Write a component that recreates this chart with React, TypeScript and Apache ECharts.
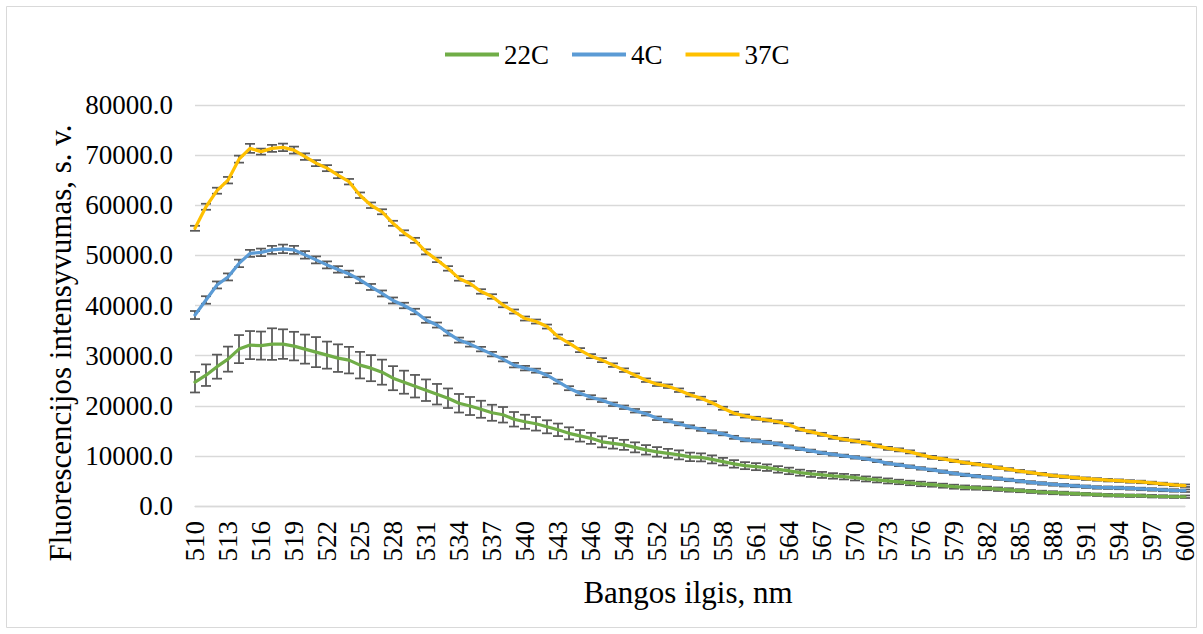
import React, { useEffect, useRef } from "react";
import * as echarts from "echarts";

const categories = [
  "510","511","512","513","514","515","516","517","518","519",
  "520","521","522","523","524","525","526","527","528","529",
  "530","531","532","533","534","535","536","537","538","539",
  "540","541","542","543","544","545","546","547","548","549",
  "550","551","552","553","554","555","556","557","558","559",
  "560","561","562","563","564","565","566","567","568","569",
  "570","571","572","573","574","575","576","577","578","579",
  "580","581","582","583","584","585","586","587","588","589",
  "590","591","592","593","594","595","596","597","598","599",
  "600",
];

const values22C = [
  24700, 26100, 27800, 29300, 31300, 32100, 32000, 32300, 32300, 31900,
  31300, 30700, 30100, 29500, 29100, 28100, 27500, 26700, 25500, 24700,
  23900, 23100, 22300, 21500, 20500, 19950, 19300, 18600, 18200, 17300,
  16800, 16400, 15800, 15200, 14500, 14000, 13500, 12800, 12500, 12200,
  11700, 11200, 10800, 10500, 10200, 9800, 9700, 9300, 8850, 8400,
  8050, 7850, 7650, 7300, 7000, 6650, 6400, 6200, 6000, 5850,
  5650, 5400, 5200, 5000, 4800, 4600, 4400, 4250, 4050, 3850,
  3700, 3600, 3500, 3350, 3200, 3050, 2900, 2750, 2650, 2550,
  2450, 2350, 2250, 2150, 2100, 2050, 2050, 1950, 1900, 1850,
  1850,
];

const errors22C = [
  2050, 2150, 2400, 2500, 2800, 2800, 2800, 3150, 2950, 2850,
  2900, 3000, 2700, 2750, 2650, 2650, 2600, 2500, 2400, 2300,
  2250, 2150, 2050, 1950, 1850, 1800, 1700, 1600, 1550, 1450,
  1400, 1350, 1300, 1250, 1200, 1150, 1100, 1100, 1050, 1000,
  1000, 950, 950, 900, 900, 850, 800, 800, 750, 750,
  700, 700, 650, 650, 650, 600, 600, 600, 550, 550,
  550, 500, 500, 500, 450, 450, 450, 400, 400, 400,
  400, 350, 350, 350, 350, 300, 300, 300, 300, 300,
  250, 250, 250, 250, 250, 250, 250, 250, 250, 250,
  250,
];

const values4C = [
  38100, 41100, 44100, 45700, 48400, 50400, 50600, 51100, 51300, 51100,
  50100, 49100, 48100, 47200, 46300, 45100, 43700, 42400, 41000, 40000,
  38800, 37100, 36100, 34500, 33100, 32300, 31300, 30300, 29300, 28100,
  27500, 27000, 26100, 24800, 23500, 22500, 21700, 21100, 20300, 19700,
  19000, 18400, 17500, 17000, 16400, 15800, 15300, 14800, 14400, 13700,
  13200, 13000, 12700, 12400, 11800, 11400, 11000, 10600, 10300, 10000,
  9700, 9400, 9000, 8500, 8200, 7850, 7500, 7200, 6850, 6500,
  6200, 5950, 5700, 5450, 5200, 4950, 4700, 4500, 4300, 4150,
  4000, 3850, 3700, 3650, 3600, 3500, 3400, 3300, 3200, 3100,
  3050,
];

const errors4C = [
  800, 750, 700, 700, 750, 700, 750, 800, 850, 800,
  750, 700, 700, 650, 650, 650, 600, 600, 600, 550,
  550, 550, 500, 500, 500, 500, 450, 450, 450, 450,
  450, 400, 400, 400, 400, 400, 400, 350, 350, 350,
  350, 350, 350, 300, 300, 300, 300, 300, 300, 300,
  300, 300, 300, 300, 300, 250, 250, 250, 250, 250,
  250, 250, 250, 250, 250, 250, 250, 250, 250, 250,
  250, 250, 250, 250, 250, 250, 250, 250, 250, 250,
  250, 250, 250, 250, 250, 250, 250, 250, 250, 250,
  250,
];

const values37C = [
  55400, 59700, 62900, 65000, 69200, 71350, 70700, 71350, 71550, 71000,
  69700, 68400, 67400, 66000, 64700, 62000, 60000, 58700, 56400, 54500,
  53000, 50700, 49100, 47400, 45400, 44400, 42800, 41800, 40100, 38800,
  37400, 36800, 35800, 33800, 32500, 31100, 29900, 29100, 28100, 27100,
  26100, 25100, 24300, 23900, 23100, 22200, 21500, 20600, 19500, 18500,
  17950, 17500, 17150, 16800, 16200, 15300, 14800, 14300, 13700, 13300,
  12970, 12600, 12000, 11500, 11200, 10800, 10200, 9700, 9400, 9000,
  8640, 8350, 8050, 7650, 7300, 6950, 6650, 6350, 6050, 5850,
  5650, 5450, 5300, 5150, 5050, 4900, 4800, 4600, 4400, 4200,
  4050,
];

const errors37C = [
  500, 600, 600, 650, 700, 900, 600, 700, 750, 700,
  650, 600, 600, 600, 550, 550, 550, 500, 500, 500,
  500, 500, 450, 450, 450, 450, 450, 450, 450, 400,
  400, 400, 400, 400, 400, 400, 400, 400, 350, 350,
  350, 350, 350, 350, 350, 350, 300, 300, 300, 300,
  300, 300, 300, 300, 300, 300, 300, 300, 300, 300,
  300, 300, 300, 300, 300, 300, 300, 300, 250, 250,
  250, 250, 250, 250, 250, 250, 250, 250, 250, 250,
  250, 250, 250, 250, 250, 250, 250, 250, 250, 250,
  250,
];

const seriesNames = ["22C", "4C", "37C"];
const seriesColors = ["#70AD47", "#5B9BD5", "#FFC000"];
const yTicks = { min: 0, max: 80000, interval: 10000 };

const FONT = "Liberation Serif";
const serifRich = { s: { fontFamily: FONT, fontSize: 27, color: "#000" } };

function errorData(values: number[], errors: number[]) {
  return values.map((v, i) => [i, v - errors[i], v + errors[i]]);
}

function errorSeries(values: number[], errors: number[]) {
  return {
    type: "custom",
    silent: true,
    z: 1,
    data: errorData(values, errors),
    encode: { x: 0, y: [1, 2] },
    renderItem: (params: any, api: any) => {
      const idx = api.value(0);
      const lo = api.coord([idx, api.value(1)]);
      const hi = api.coord([idx, api.value(2)]);
      const half = 5;
      const style = { stroke: "#595959", lineWidth: 1.75 };
      return {
        type: "group",
        children: [
          { type: "line", shape: { x1: lo[0], y1: lo[1], x2: hi[0], y2: hi[1] }, style },
          { type: "line", shape: { x1: hi[0] - half, y1: hi[1], x2: hi[0] + half, y2: hi[1] }, style },
          { type: "line", shape: { x1: lo[0] - half, y1: lo[1], x2: lo[0] + half, y2: lo[1] }, style },
        ],
      };
    },
  };
}

function lineSeries(name: string, color: string, values: number[]) {
  return {
    name,
    type: "line",
    data: values,
    showSymbol: false,
    symbol: "none",
    z: 3,
    lineStyle: { color, width: 3.2, cap: "round", join: "round" },
    itemStyle: { color },
  };
}

export default function App() {
  const ref = useRef<HTMLDivElement>(null);

  useEffect(() => {
    if (!ref.current) return;
    const chart = echarts.init(ref.current, undefined, { renderer: "svg" });
    chart.setOption({
      animation: false,
      backgroundColor: "#ffffff",
      textStyle: { fontFamily: FONT, fontSize: 27 },
      legend: {
        data: seriesNames.map((n) => ({ name: n, icon: "rect" })),
        left: 440,
        top: 36,
        itemWidth: 54,
        itemHeight: 4,
        itemGap: 23,
        formatter: (name: string) => `{s|${name}}`,
        textStyle: { fontFamily: FONT, fontSize: 27, color: "#000", rich: serifRich },
      },
      grid: {
        left: 195,
        right: 18,
        top: 105,
        bottom: 128,
        containLabel: false,
        outerBoundsMode: "none",
      },
      xAxis: {
        type: "category",
        data: categories,
        boundaryGap: false,
        axisLine: { show: true, lineStyle: { color: "#D9D9D9", width: 1.3 } },
        axisTick: { show: false },
        axisLabel: {
          interval: 2,
          rotate: 90,
          margin: 15,
          fontFamily: FONT,
          fontSize: 27,
          color: "#000",
          formatter: (v: string) => `{s|${v}}`,
          rich: serifRich,
        },
        splitLine: { show: false },
      },
      yAxis: {
        type: "value",
        min: yTicks.min,
        max: yTicks.max,
        interval: yTicks.interval,
        axisLine: { show: false },
        axisTick: { show: false },
        axisLabel: {
          margin: 22,
          fontFamily: FONT,
          fontSize: 27,
          color: "#000",
          formatter: (v: number) => `{s|${v.toFixed(1)}}`,
          rich: serifRich,
        },
        splitLine: { lineStyle: { color: "#D9D9D9", width: 1.3 } },
      },
      graphic: [
        {
          type: "rect",
          silent: true,
          shape: { x: 6.5, y: 6.5, width: 1190, height: 621 },
          style: { fill: "none", stroke: "#D9D9D9", lineWidth: 1 },
          z: 0,
        },
        {
          type: "text",
          x: 60,
          y: 343,
          rotation: Math.PI / 2,
          style: {
            text: "Fluorescencijos intensyvumas, s. v.",
            fontFamily: FONT,
            fontSize: 31,
            fill: "#000",
            align: "center",
            verticalAlign: "middle",
          },
        },
        {
          type: "text",
          x: 688,
          y: 592,
          style: {
            text: "Bangos ilgis, nm",
            fontFamily: FONT,
            fontSize: 31,
            fill: "#000",
            align: "center",
            verticalAlign: "middle",
          },
        },
      ],
      series: [
        errorSeries(values22C, errors22C),
        errorSeries(values4C, errors4C),
        errorSeries(values37C, errors37C),
        lineSeries(seriesNames[0], seriesColors[0], values22C),
        lineSeries(seriesNames[1], seriesColors[1], values4C),
        lineSeries(seriesNames[2], seriesColors[2], values37C),
      ],
    });
    return () => chart.dispose();
  }, []);

  return (
    <div
      ref={ref}
      style={{ position: "fixed", left: 0, top: 0, width: 1203, height: 634, background: "#fff" }}
    />
  );
}
